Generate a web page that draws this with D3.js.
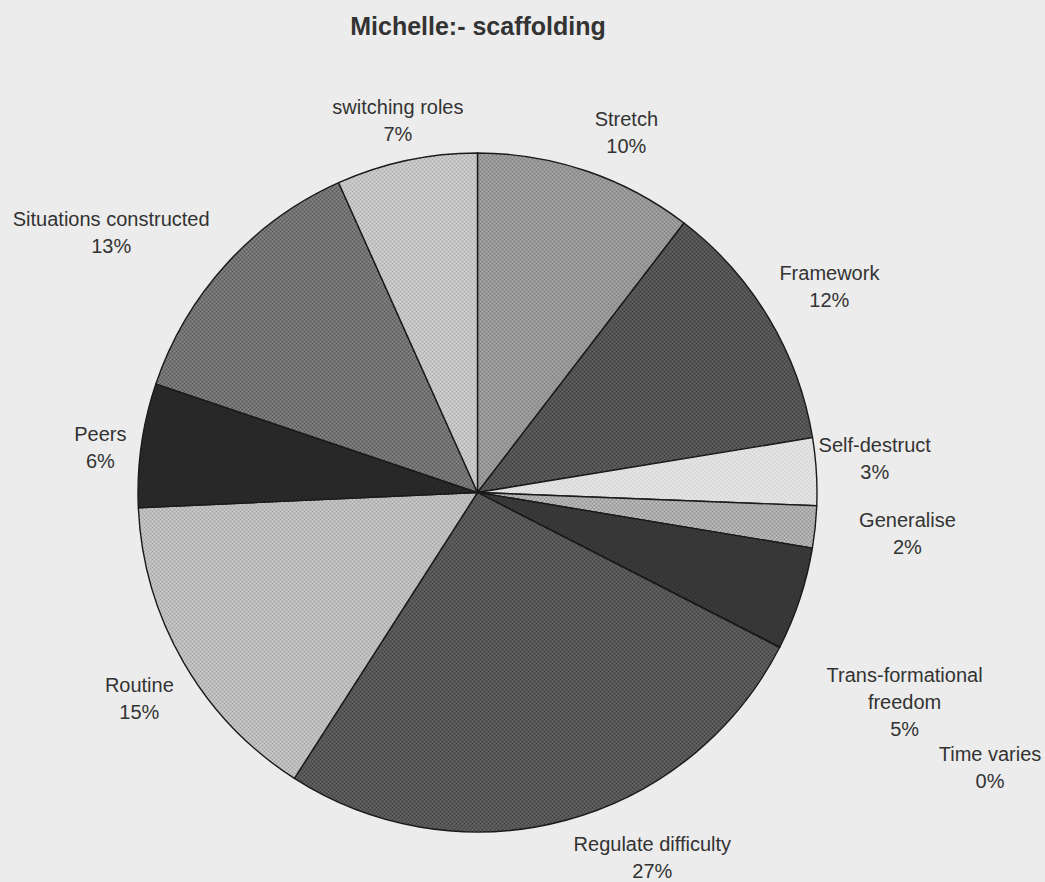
<!DOCTYPE html>
<html><head><meta charset="utf-8">
<script src="https://cdn.jsdelivr.net/npm/d3@7"></script>
<style>body{margin:0;background:#ececec;} svg{display:block}</style>
</head><body>
<svg id="chart" width="1045" height="882"></svg>
<script>
// ---- data ----
const title = "Michelle:- scaffolding";
const categories = ["Stretch", "Framework", "Self-destruct", "Generalise", "Trans-formational freedom",
  "Time varies", "Regulate difficulty", "Routine", "Peers", "Situations constructed", "switching roles"];
const values = [10.4, 12.0, 3.2, 2.0, 4.9, 0.02, 26.5, 15.2, 5.9, 13.1, 6.7];
const labelLines = [["Stretch"], ["Framework"], ["Self-destruct"], ["Generalise"],
  ["Trans-formational", "freedom"], ["Time varies"], ["Regulate difficulty"], ["Routine"],
  ["Peers"], ["Situations constructed"], ["switching roles"]];

// ---- style / layout ----
const palette = [
  ["#aaaaaa", "#828282"], // Stretch
  ["#666666", "#404040"], // Framework
  ["#ececec", "#d2d2d2"], // Self-destruct
  ["#c4c4c4", "#929292"], // Generalise
  ["#404040", "#2e2e2e"], // Trans-formational
  ["#333333", "#222222"], // Time varies
  ["#686868", "#434343"], // Regulate
  ["#d0d0d0", "#a6a6a6"], // Routine
  ["#2c2c2c", "#232323"], // Peers
  ["#8c8c8c", "#585858"], // Situations
  ["#d8d8d8", "#aeaeae"]  // switching
];
const labelNudge = [[22, 14], [13, -3], [3, -10], [37, 1], [52, 86], [161, 95], [72, -16],
  [4, 9], [14, 10], [-74, 6], [3, 14]];

const W = 1045, H = 882, cx = 477.5, cy = 492.5, R = 339.5, labelR = 395;
const svg = d3.select("#chart");
svg.append("rect").attr("width", W).attr("height", H).attr("fill", "#ececec");

const defs = svg.append("defs");
palette.forEach((p, i) => {
  const pat = defs.append("pattern").attr("id", "p" + i).attr("width", 4).attr("height", 4)
    .attr("patternUnits", "userSpaceOnUse");
  pat.append("rect").attr("width", 4).attr("height", 4).attr("fill", p[0]);
  pat.append("rect").attr("width", 2).attr("height", 2).attr("fill", p[1]);
  pat.append("rect").attr("x", 2).attr("y", 2).attr("width", 2).attr("height", 2).attr("fill", p[1]);
});

svg.append("text").attr("x", 478).attr("y", 35).attr("text-anchor", "middle")
  .attr("font-family", "'Liberation Sans', Arial, sans-serif").attr("font-size", 25)
  .attr("font-weight", "bold").attr("fill", "#333").text(title);

const total = d3.sum(values);
const pie = d3.pie().sort(null).value(d => d)(values);
const arc = d3.arc().innerRadius(0).outerRadius(R);
const labelArc = d3.arc().innerRadius(labelR).outerRadius(labelR);

const g = svg.append("g").attr("transform", `translate(${cx},${cy})`);
g.selectAll("path.slice").data(pie).join("path").attr("class", "slice")
  .attr("d", arc)
  .attr("fill", (d, i) => `url(#p${i})`)
  .attr("stroke", "#1a1a1a").attr("stroke-width", 1.4).attr("stroke-linejoin", "round");

pie.forEach((d, i) => {
  const [x, y] = labelArc.centroid(d);
  const lx = x + labelNudge[i][0], ly = y + labelNudge[i][1];
  const lines = [...labelLines[i], Math.round(values[i] / total * 100) + "%"];
  const n = lines.length;
  const t = g.append("text").attr("text-anchor", "middle")
    .attr("font-family", "'Liberation Sans', Arial, sans-serif").attr("font-size", 20)
    .attr("fill", "#333");
  lines.forEach((s, k) => {
    t.append("tspan").attr("x", lx).attr("y", ly + (k - (n - 1) / 2) * 27 + 7).text(s);
  });
});
</script>
</body></html>
